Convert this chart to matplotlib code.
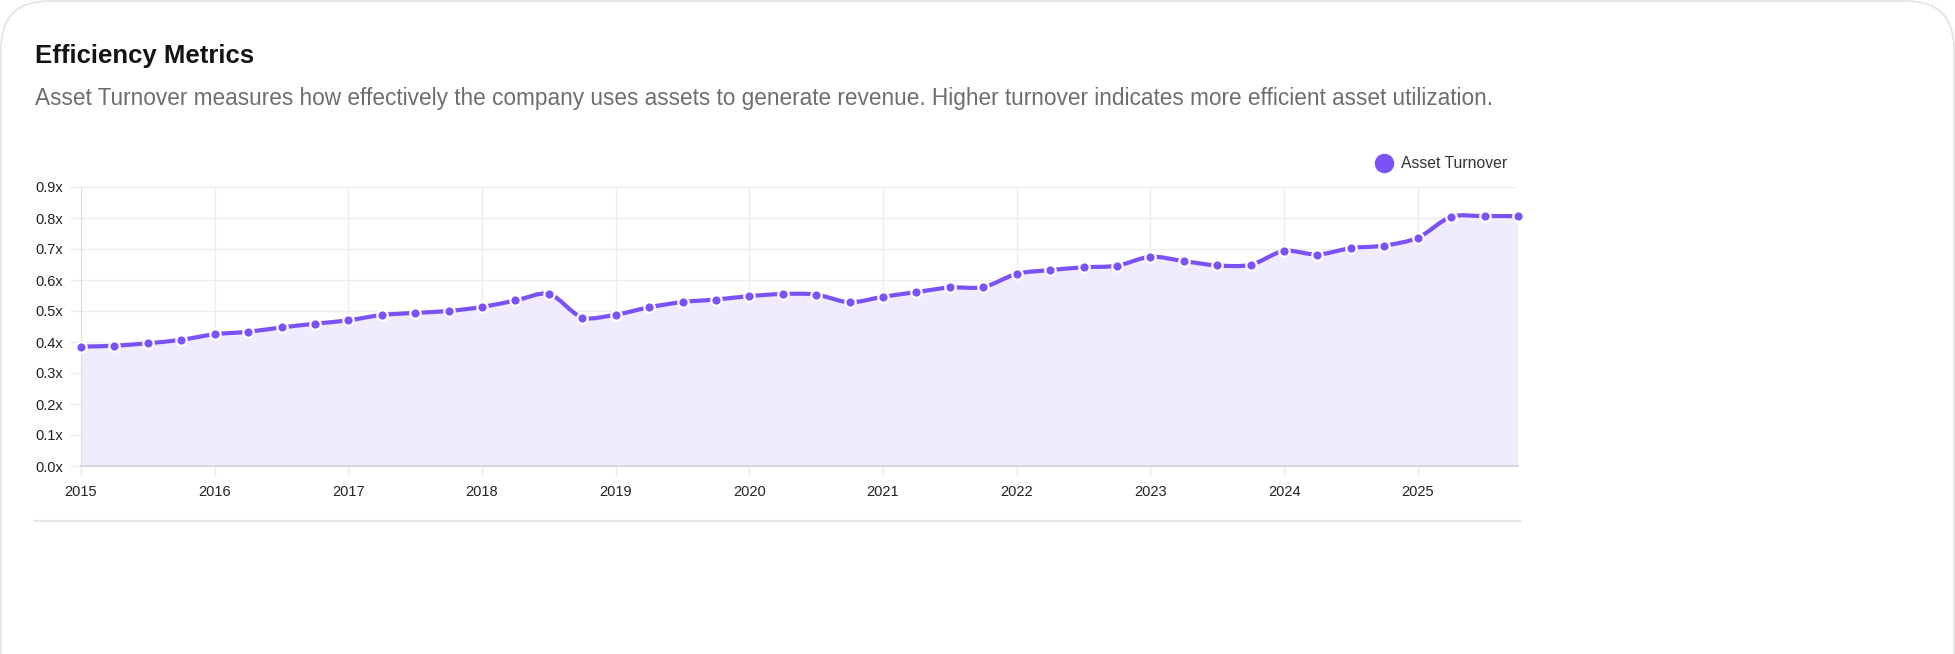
#!/usr/bin/env python3
"""Efficiency Metrics card: quarterly asset turnover, 2015-2025."""

import matplotlib

matplotlib.use("Agg")
import matplotlib.pyplot as plt
import numpy as np
import pandas as pd
from matplotlib.patches import FancyBboxPatch, PathPatch
from matplotlib.path import Path

plt.rcParams["font.family"] = ["Liberation Sans", "DejaVu Sans"]

TITLE = "Efficiency Metrics"
SUBTITLE = (
    "Asset Turnover measures how effectively the company uses assets to generate "
    "revenue. Higher turnover indicates more efficient asset utilization."
)
SERIES_NAME = "Asset Turnover"

periods = pd.period_range("2015Q1", "2025Q4", freq="Q")
asset_turnover = [
    0.385, 0.388, 0.396, 0.407,
    0.425, 0.433, 0.447, 0.459,
    0.470, 0.487, 0.494, 0.500,
    0.513, 0.534, 0.555, 0.479,
    0.488, 0.512, 0.529, 0.537,
    0.548, 0.555, 0.553, 0.528,
    0.546, 0.561, 0.576, 0.577,
    0.620, 0.632, 0.641, 0.646,
    0.675, 0.661, 0.647, 0.649,
    0.694, 0.682, 0.703, 0.711,
    0.736, 0.804, 0.806, 0.806,
]
year_ticks = list(range(2015, 2026))
y_ticks = [0.0, 0.1, 0.2, 0.3, 0.4, 0.5, 0.6, 0.7, 0.8, 0.9]

LINE = "#7b52f7"
FILL = "#f0ebfd"
GRID = "#ececf0"
W, H = 1956, 654


def spline_path(px, py, tension=0.3):
    """Chart.js style bezier through points given in display pixels."""
    n = len(px)
    cp_prev = np.zeros((n, 2))
    cp_next = np.zeros((n, 2))
    pts = np.column_stack([px, py])
    for i in range(n):
        p0 = pts[max(i - 1, 0)]
        p1 = pts[i]
        p2 = pts[min(i + 1, n - 1)]
        d01 = np.hypot(*(p1 - p0))
        d12 = np.hypot(*(p2 - p1))
        tot = d01 + d12
        s01 = d01 / tot if tot else 0
        s12 = d12 / tot if tot else 0
        cp_prev[i] = p1 - tension * s01 * (p2 - p0)
        cp_next[i] = p1 + tension * s12 * (p2 - p0)
    verts = [pts[0]]
    codes = [Path.MOVETO]
    for i in range(1, n):
        verts += [cp_next[i - 1], cp_prev[i], pts[i]]
        codes += [Path.CURVE4] * 3
    return np.array(verts), codes


fig = plt.figure(figsize=(W / 100, H / 100), dpi=100)
fig.patch.set_facecolor("white")

# background layer in pixel coordinates (card, headings, legend, divider)
bg = fig.add_axes([0, 0, 1, 1])
bg.set_xlim(0, W)
bg.set_ylim(H, 0)
bg.axis("off")
card = FancyBboxPatch(
    (1, 1), W - 3, H + 100,
    boxstyle="round,pad=0,rounding_size=48",
    facecolor="white", edgecolor="#e2e2e2", linewidth=1.2,
)
bg.add_patch(card)
bg.text(35, 56, TITLE, fontsize=18.5, fontweight="bold", color="#141414",
        va="center", ha="left")
bg.text(35, 99, SUBTITLE, fontsize=16.3, color="#6e6e6e", va="center", ha="left")
bg.plot([1384], [163], "o", markersize=13, color=LINE)
bg.text(1401, 163, SERIES_NAME, fontsize=11.3, color="#333333", va="center", ha="left")
bg.plot([35, 1520], [521, 521], color="#e6e6e6", linewidth=1.5)

# chart
ax = fig.add_axes([81 / W, 1 - 466 / H, (1518 - 81) / W, (466 - 187) / H])
x = periods.year + (periods.quarter - 1) / 4
ax.set_xlim(x[0], x[-1])
ax.set_ylim(0, 0.9)

disp = ax.transData.transform(np.column_stack([x, asset_turnover]))
verts_px, codes = spline_path(disp[:, 0], disp[:, 1])
verts = ax.transData.inverted().transform(verts_px)

curve = Path(verts, codes)
fill_verts = np.vstack([verts, [[x[-1], 0], [x[0], 0], verts[0]]])
fill_codes = codes + [Path.LINETO, Path.LINETO, Path.CLOSEPOLY]
ax.add_patch(PathPatch(Path(fill_verts, fill_codes), facecolor=FILL,
                       edgecolor="none", zorder=1))
ax.add_patch(PathPatch(curve, facecolor="none", edgecolor=LINE, linewidth=3,
                       capstyle="round", joinstyle="round", zorder=3))
ax.plot(x, asset_turnover, "o", markersize=7.5, markerfacecolor=LINE,
        markeredgecolor="white", markeredgewidth=1.6, zorder=4, clip_on=False)

ax.set_xticks(year_ticks)
ax.set_xticklabels([str(y) for y in year_ticks])
ax.set_yticks(y_ticks)
ax.set_yticklabels([f"{v:.1f}x" for v in y_ticks])
ax.grid(True, color=GRID, linewidth=1)
ax.set_axisbelow(True)
ax.tick_params(axis="both", length=8, width=1, color=GRID, labelsize=10.5,
               labelcolor="#222222")
ax.tick_params(axis="x", pad=5.5)
ax.tick_params(axis="y", pad=5)
for side in ["top", "right"]:
    ax.spines[side].set_visible(False)
ax.spines["left"].set_color("#dcdce2")
ax.spines["bottom"].set_color("#d6d3e3")
ax.spines["bottom"].set_linewidth(1.3)
ax.patch.set_alpha(0)

fig.savefig("out.png", dpi=100)
